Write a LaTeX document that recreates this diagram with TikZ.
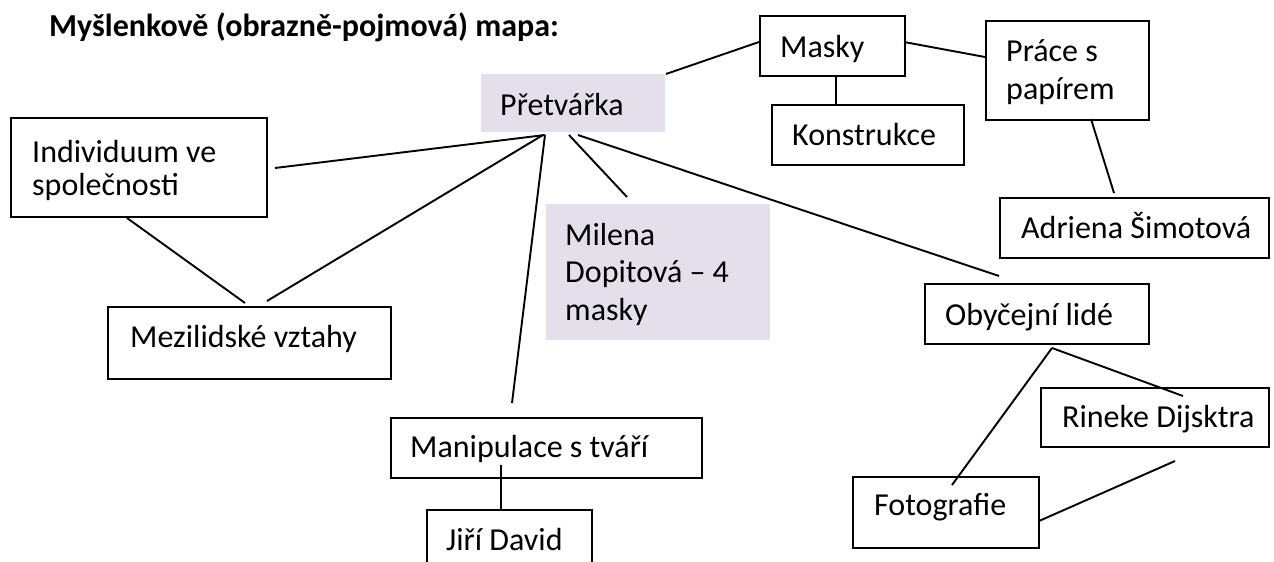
\documentclass[tikz,border=0pt]{standalone}
\usepackage{fontspec}
\setmainfont{Carlito}
\definecolor{lav}{HTML}{E5DFEC}
\begin{document}
\begin{tikzpicture}[x=1pt,y=-1pt,
  box/.style={draw, line width=2.4pt, anchor=north west, inner sep=0pt},
  tint/.style={fill=lav, anchor=north west, inner sep=0pt},
  txt/.style={anchor=base west, inner sep=0pt, align=left,
              font=\fontsize{32}{37.5}\selectfont},
  link/.style={line width=1.9pt}]
\clip (0,0) rectangle (1274,562);
\fill[white] (0,0) rectangle (1274,562);

% heading
\node[txt, font=\fontsize{32}{37}\bfseries] (title) at (49,36) {Myšlenkově (obrazně-pojmová) mapa:};

% shaded concepts (multi-line texts are placed by their last baseline)
\node[tint, minimum width=184pt, minimum height=58pt] (pretB) at (481,74) {};
\node[txt] (pret) at (500,115) {Přetvářka};
\node[tint, minimum width=224pt, minimum height=136pt] (milB) at (546,204) {};
\node[txt] (mil) at (565,320) {Milena\\Dopitová – 4\\masky};

% framed concepts
\node[box, minimum width=256pt, minimum height=99pt] (indB) at (10,117) {};
\node[txt, font=\fontsize{32}{33}\selectfont] (ind) at (32,195) {Individuum ve\\společnosti};
\node[box, minimum width=283pt, minimum height=72pt] (mezB) at (107,306) {};
\node[txt] (mez) at (130,347) {Mezilidské vztahy};
\node[box, minimum width=311pt, minimum height=60pt] (manB) at (390,417) {};
\node[txt] (man) at (410,457) {Manipulace s tváří};
\node[box, minimum width=165pt, minimum height=80pt] (jirB) at (426,509) {};
\node[txt] (jir) at (446,550) {Jiří David};
\node[box, minimum width=145pt, minimum height=60pt] (masB) at (759,15) {};
\node[txt] (mas) at (780,57) {Masky};
\node[box, minimum width=192pt, minimum height=60pt] (konB) at (771,104) {};
\node[txt] (kon) at (792,145) {Konstrukce};
\node[box, minimum width=163pt, minimum height=99pt] (praB) at (985,20) {};
\node[txt] (pra) at (1006,99) {Práce s\\papírem};
\node[box, minimum width=269pt, minimum height=60pt] (adrB) at (999,197) {};
\node[txt] (adr) at (1021,238) {Adriena Šimotová};
\node[box, minimum width=224pt, minimum height=60pt] (obyB) at (924,283) {};
\node[txt] (oby) at (945,325) {Obyčejní lidé};
\node[box, minimum width=228pt, minimum height=59pt] (rinB) at (1040,387) {};
\node[txt] (rin) at (1062,427) {Rineke Dijsktra};
\node[box, minimum width=186pt, minimum height=71pt] (fotB) at (852,476) {};
\node[txt] (fot) at (874,515) {Fotografie};

% connector end points
\coordinate (pInd) at (545,135);
\coordinate (pMez) at (543,135);
\coordinate (pMan) at (545,135);
\coordinate (pMil) at (569,135);
\coordinate (pOby) at (578,135);
\coordinate (pMas) at (666,74);
\coordinate (indR) at (275,168);
\coordinate (indD) at (127,218);
\coordinate (mezU) at (245,303);
\coordinate (mezU2) at (267,301);
\coordinate (manU) at (512,403);
\coordinate (milU) at (627,197);
\coordinate (obyU) at (999,276);
\coordinate (masL) at (759,42);
\coordinate (masR) at (904,42);
\coordinate (praL) at (985,57);
\coordinate (masD) at (836,75);
\coordinate (konU) at (836,104);
\coordinate (praD) at (1091,119);
\coordinate (adrU) at (1114,193);
\coordinate (obyD) at (1052,348);
\coordinate (rinU) at (1183,396);
\coordinate (rinD) at (1175,461);
\coordinate (fotU) at (952,485);
\coordinate (fotR) at (1039,521);
\coordinate (manD) at (501,465);
\coordinate (jirU) at (501,509);

% connectors
\draw[link] (indR) -- (pInd);
\draw[link] (mezU2) -- (pMez);
\draw[link] (indD) -- (mezU);
\draw[link] (pMan) -- (manU);
\draw[link] (pMil) -- (milU);
\draw[link] (pOby) -- (obyU);
\draw[link] (pMas) -- (masL);
\draw[link] (masR) -- (praL);
\draw[link] (masD) -- (konU);
\draw[link] (praD) -- (adrU);
\draw[link] (obyD) -- (rinU);
\draw[link] (obyD) -- (fotU);
\draw[link] (rinD) -- (fotR);
\draw[link] (manD) -- (jirU);
\end{tikzpicture}
\end{document}
